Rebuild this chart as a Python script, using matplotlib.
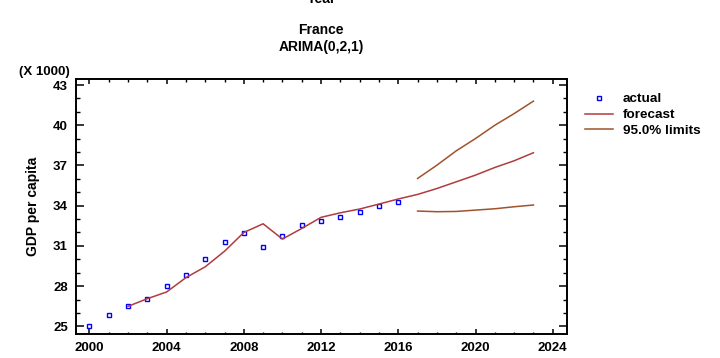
import matplotlib
matplotlib.use("Agg")
import matplotlib.pyplot as plt
from matplotlib.ticker import MultipleLocator

plt.rcParams["font.family"] = ["Liberation Sans", "DejaVu Sans"]
plt.rcParams["font.weight"] = "bold"

# data (GDP per capita, thousands)
years_actual = [2000, 2001, 2002, 2003, 2004, 2005, 2006, 2007, 2008,
                2009, 2010, 2011, 2012, 2013, 2014, 2015, 2016]
gdp_actual = [25.0, 25.84, 26.49, 27.04, 28.03, 28.84, 30.0, 31.29, 31.96,
              30.9, 31.71, 32.55, 32.86, 33.16, 33.53, 33.95, 34.3]

years_fit = [2002, 2003, 2004, 2005, 2006, 2007, 2008, 2009, 2010, 2011,
             2012, 2013, 2014, 2015, 2016, 2017, 2018, 2019, 2020, 2021,
             2022, 2023]
gdp_fit = [26.49, 27.06, 27.56, 28.63, 29.44, 30.6, 32.0, 32.65, 31.51, 32.3,
           33.13, 33.47, 33.75, 34.12, 34.5, 34.84, 35.28, 35.78, 36.28, 36.85,
           37.35, 37.95]

years_lim = [2017, 2018, 2019, 2020, 2021, 2022, 2023]
upper_lim = [36.03, 37.02, 38.09, 39.01, 40.0, 40.87, 41.8]
lower_lim = [33.6, 33.55, 33.57, 33.67, 33.77, 33.92, 34.05]

fc_color = "#b03c3c"
lim_color = "#a0522d"

fig = plt.figure(figsize=(7.2, 3.58), dpi=100)
ax = fig.add_axes([0.1056, 0.0679, 0.6814, 0.7114])

ax.plot(years_actual, gdp_actual, ls="none", marker="s", ms=3.4, mfc="none",
        mec="#0000ff", mew=1.0, label="actual")
ax.plot(years_fit, gdp_fit, color=fc_color, lw=1.1, label="forecast")
ax.plot(years_lim, upper_lim, color=lim_color, lw=1.1, label="95.0% limits")
ax.plot(years_lim, lower_lim, color=lim_color, lw=1.1)

ax.set_xlim(1999.31, 2024.72)
ax.set_ylim(24.45, 43.45)
ax.xaxis.set_major_locator(MultipleLocator(4))
ax.xaxis.set_minor_locator(MultipleLocator(1))
ax.yaxis.set_major_locator(MultipleLocator(3, offset=1))
ax.yaxis.set_minor_locator(MultipleLocator(1))

for s in ax.spines.values():
    s.set_linewidth(1.4)
ax.tick_params(axis="x", which="major", direction="in", length=3.3, width=1.1,
               top=True, pad=5.8, labelsize=9.5)
ax.tick_params(axis="x", which="minor", direction="in", length=1.8, width=1.0,
               top=True)
ax.tick_params(axis="y", which="major", direction="in", length=5.8, width=1.1,
               right=True, pad=5.8, labelsize=9.5)
ax.tick_params(axis="y", which="minor", direction="in", length=3.2, width=1.0,
               right=True)
for lab in ax.get_xticklabels() + ax.get_yticklabels():
    lab.set_fontweight("bold")

fig.text(33 / 720, 1 - 206 / 358, "GDP per capita", rotation=90, ha="center",
         va="center", fontsize=10, fontweight="bold")
fig.text(70 / 720, 1 - 72.5 / 358, "(X 1000)", ha="right", va="center",
         fontsize=9.5, fontweight="bold")
fig.text(0.446, 1 - 3 / 358, "Year", ha="center", va="baseline",
         fontsize=10, fontweight="bold")
fig.text(0.446, 1 - 30 / 358, "France", ha="center", va="center",
         fontsize=10, fontweight="bold")
fig.text(0.446, 1 - 47 / 358, "ARIMA(0,2,1)", ha="center", va="center",
         fontsize=10, fontweight="bold")

leg = fig.legend(loc="upper left", bbox_to_anchor=(585 / 720, 1 - 93 / 358),
                 frameon=False, fontsize=9.7, handlelength=2.1,
                 handletextpad=0.7, labelspacing=0.25, borderpad=0,
                 borderaxespad=0, markerscale=0.7)
for t in leg.get_texts():
    t.set_fontweight("bold")

fig.savefig("out.png", dpi=100)
